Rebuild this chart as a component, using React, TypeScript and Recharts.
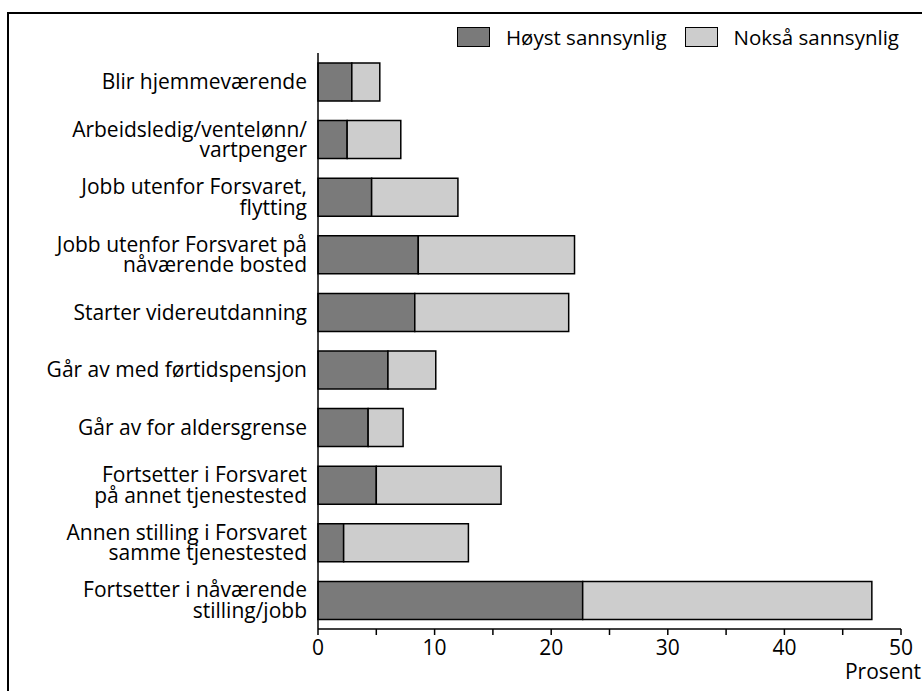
import React from 'react';
import { BarChart, Bar, XAxis, YAxis } from 'recharts';

// Categories top to bottom, two-line labels split with \n
const categories = [
  'Blir hjemmeværende',
  'Arbeidsledig/ventelønn/\nvartpenger',
  'Jobb utenfor Forsvaret,\nflytting',
  'Jobb utenfor Forsvaret på\nnåværende bosted',
  'Starter videreutdanning',
  'Går av med førtidspensjon',
  'Går av for aldersgrense',
  'Fortsetter i Forsvaret\npå annet tjenestested',
  'Annen stilling i Forsvaret\nsamme tjenestested',
  'Fortsetter i nåværende\nstilling/jobb',
];

const hoystSannsynlig = [2.9, 2.5, 4.6, 8.6, 8.3, 6.0, 4.3, 5.0, 2.2, 22.7];
const noksaSannsynlig = [2.4, 4.6, 7.4, 13.4, 13.2, 4.1, 3.0, 10.7, 10.7, 24.8];

const xTicks = [0, 5, 10, 15, 20, 25, 30, 35, 40, 45, 50];

const data = categories.map((name, i) => ({
  name,
  hoyst: hoystSannsynlig[i],
  noksa: noksaSannsynlig[i],
}));

const FONT = '"Open Sans", sans-serif';
const FS = 21;
const DARK = '#7a7a7a';
const LIGHT = '#cdcdcd';

const CategoryTick = ({ x, y, payload }: any) => {
  const lines = String(payload.value).split('\n');
  const lh = 20.5;
  const start = -((lines.length - 1) * lh) / 2;
  return (
    <text x={x} y={y} textAnchor="end" fontFamily={FONT} fontSize={FS} fill="#000">
      {lines.map((l, i) => (
        <tspan key={i} x={x} y={y + start + i * lh} dy="0.35em">
          {l}
        </tspan>
      ))}
    </text>
  );
};

const ValueTick = ({ x, y, payload }: any) => {
  if (payload.value % 10 !== 0) return null;
  return (
    <text x={x} y={y} dy="0.71em" textAnchor="middle" fontFamily={FONT} fontSize={FS} fill="#000">
      {payload.value}
    </text>
  );
};

const LegendBox = ({ color, label }: { color: string; label: string }) => (
  <span style={{ display: 'inline-flex', alignItems: 'center', marginRight: 18 }}>
    <span
      style={{
        display: 'inline-block',
        width: 31,
        height: 18,
        background: color,
        border: '1px solid #000',
        marginRight: 16,
      }}
    />
    <span>{label}</span>
  </span>
);

export default function App() {
  return (
    <div style={{ position: 'absolute', left: 0, top: 0, width: 922, height: 691, overflow: 'hidden', background: '#fff' }}>
      {/* outer frame, cut at the right and bottom */}
      <div
        style={{
          position: 'absolute',
          left: 7,
          top: 12,
          width: 940,
          height: 700,
          borderLeft: '2px solid #000',
          borderTop: '2px solid #000',
        }}
      />
      <div
        style={{
          position: 'absolute',
          left: 457,
          top: 26,
          fontFamily: FONT,
          fontSize: 20.5,
          lineHeight: '22px',
          display: 'flex',
          whiteSpace: 'nowrap',
        }}
      >
        <LegendBox color={DARK} label="Høyst sannsynlig" />
        <LegendBox color={LIGHT} label="Nokså sannsynlig" />
      </div>
      <div style={{ position: 'absolute', left: 0, top: 0 }}>
        <BarChart
          width={922}
          height={691}
          data={data}
          layout="vertical"
          margin={{ top: 53, right: 21, bottom: 32, left: 0 }}
          barSize={38}
        >
          <XAxis
            type="number"
            domain={[0, 50]}
            ticks={xTicks}
            interval={0}
            axisLine={{ stroke: '#000', strokeWidth: 1.5 }}
            tickLine={{ stroke: '#000', strokeWidth: 1.5 }}
            tickSize={6}
            tickMargin={5}
            height={30}
            tick={<ValueTick />}
            label={({ viewBox }: any) => (
              <text
                x={viewBox.x + viewBox.width + 20}
                y={viewBox.y + 50}
                textAnchor="end"
                fontFamily={FONT}
                fontSize={FS}
                fill="#000"
              >
                Prosent
              </text>
            )}
          />
          <XAxis
            xAxisId="top"
            type="number"
            orientation="top"
            domain={[0, 50]}
            tick={false}
            tickLine={false}
            axisLine={{ stroke: '#000', strokeWidth: 1.5 }}
            height={0}
          />
          <YAxis
            type="category"
            dataKey="name"
            width={318}
            axisLine={{ stroke: '#000', strokeWidth: 1.5 }}
            tickLine={false}
            tickSize={0}
            tickMargin={11}
            interval={0}
            tick={<CategoryTick />}
          />
          <YAxis
            yAxisId="right"
            type="category"
            dataKey="name"
            orientation="right"
            width={0}
            tick={false}
            tickLine={false}
            axisLine={{ stroke: '#000', strokeWidth: 1.5 }}
          />
          <Bar dataKey="hoyst" stackId="a" fill={DARK} stroke="#000" strokeWidth={1.5} isAnimationActive={false} />
          <Bar dataKey="noksa" stackId="a" fill={LIGHT} stroke="#000" strokeWidth={1.5} isAnimationActive={false} />
        </BarChart>
      </div>
    </div>
  );
}
